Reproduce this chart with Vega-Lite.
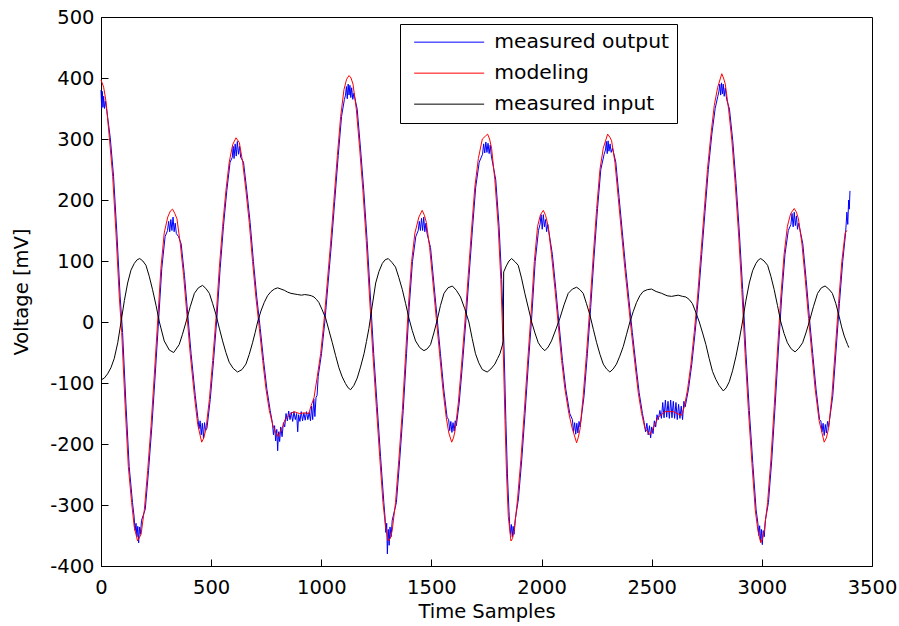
{
"$schema": "https://vega.github.io/schema/vega-lite/v6.json",
"width": 771,
"height": 549,
"autosize": {"type": "none"},
"padding": {"left": 101, "top": 17, "right": 27, "bottom": 60},
"background": "white",
"config": {
  "font": "DejaVu Sans",
  "view": {"stroke": "black", "strokeWidth": 1},
  "axis": {"grid": false, "domainColor": "black", "tickColor": "black", "labelColor": "black", "titleColor": "black", "labelFont": "DejaVu Sans", "titleFont": "DejaVu Sans", "labelFontSize": 19.5, "titleFontSize": 19.5, "titleFontWeight": "normal", "tickSize": -7, "domainWidth": 1, "tickWidth": 1, "labelFlush": false, "labelOverlap": false}
},
"resolve": {"axis": {"x": "independent", "y": "independent"}},
"layer": [
  {
    "data": {"values": [
{"t":0,"v":380},{"t":3,"v":350},{"t":6,"v":378},{"t":9,"v":352},{"t":12,"v":370},{"t":16,"v":350},{"t":20,"v":362},{"t":27,"v":345},{"t":42,"v":302},{"t":57,"v":239},{"t":72,"v":146},{"t":87,"v":41},{"t":98,"v":-17},{"t":113,"v":-133},{"t":128,"v":-237},{"t":143,"v":-296},
{"t":150,"v":-318},{"t":155,"v":-342},{"t":159,"v":-330},{"t":163,"v":-352},{"t":167,"v":-335},{"t":171,"v":-362},{"t":175,"v":-336},{"t":179,"v":-348},{"t":184,"v":-325},
{"t":201,"v":-307},{"t":216,"v":-243},{"t":231,"v":-171},{"t":246,"v":-87},{"t":261,"v":0},{"t":276,"v":88},{"t":291,"v":140},
{"t":302,"v":150},{"t":307,"v":165},{"t":312,"v":148},{"t":317,"v":168},{"t":322,"v":150},{"t":327,"v":172},{"t":332,"v":148},{"t":337,"v":162},{"t":342,"v":145},
{"t":352,"v":140},{"t":364,"v":128},{"t":379,"v":76},{"t":394,"v":12},{"t":409,"v":-52},{"t":428,"v":-121},
{"t":440,"v":-158},{"t":445,"v":-175},{"t":450,"v":-162},{"t":455,"v":-185},{"t":460,"v":-166},{"t":465,"v":-190},{"t":470,"v":-165},{"t":475,"v":-178},
{"t":481,"v":-174},{"t":496,"v":-127},{"t":511,"v":-63},{"t":526,"v":6},{"t":541,"v":88},{"t":556,"v":157},{"t":571,"v":215},{"t":586,"v":262},
{"t":596,"v":270},{"t":600,"v":288},{"t":604,"v":268},{"t":609,"v":292},{"t":614,"v":272},{"t":619,"v":296},{"t":624,"v":275},{"t":629,"v":288},{"t":634,"v":270},
{"t":647,"v":262},{"t":662,"v":215},{"t":677,"v":163},{"t":692,"v":99},{"t":707,"v":41},{"t":723,"v":-11},{"t":738,"v":-63},{"t":753,"v":-110},{"t":768,"v":-145},
{"t":778,"v":-165},{"t":783,"v":-185},{"t":788,"v":-170},{"t":793,"v":-195},{"t":798,"v":-176},{"t":802,"v":-211},{"t":806,"v":-180},{"t":811,"v":-196},{"t":816,"v":-172},{"t":822,"v":-188},{"t":828,"v":-165},{"t":834,"v":-172},
{"t":840,"v":-150},{"t":846,"v":-162},{"t":852,"v":-146},{"t":858,"v":-160},{"t":864,"v":-148},{"t":870,"v":-163},{"t":876,"v":-147},{"t":882,"v":-160},{"t":888,"v":-150},{"t":893,"v":-180},{"t":897,"v":-152},{"t":903,"v":-163},{"t":909,"v":-147},{"t":915,"v":-162},{"t":921,"v":-149},{"t":927,"v":-161},{"t":933,"v":-147},{"t":939,"v":-160},{"t":945,"v":-148},{"t":951,"v":-162},{"t":956,"v":-138},{"t":961,"v":-160},{"t":966,"v":-126},{"t":971,"v":-155},{"t":976,"v":-124},{"t":981,"v":-120},
{"t":986,"v":-89},{"t":1001,"v":-52},{"t":1016,"v":0},{"t":1031,"v":64},{"t":1046,"v":128},{"t":1061,"v":198},{"t":1077,"v":273},{"t":1092,"v":337},{"t":1105,"v":365},
{"t":1110,"v":372},{"t":1114,"v":386},{"t":1118,"v":366},{"t":1122,"v":390},{"t":1126,"v":372},{"t":1130,"v":388},{"t":1134,"v":368},{"t":1138,"v":384},{"t":1143,"v":365},{"t":1148,"v":375},
{"t":1163,"v":349},{"t":1178,"v":285},{"t":1193,"v":215},{"t":1208,"v":134},{"t":1223,"v":41},{"t":1238,"v":-52},{"t":1254,"v":-139},{"t":1269,"v":-220},{"t":1284,"v":-296},
{"t":1289,"v":-318},{"t":1293,"v":-345},{"t":1297,"v":-330},{"t":1300,"v":-380},{"t":1304,"v":-340},{"t":1308,"v":-366},{"t":1312,"v":-336},{"t":1317,"v":-352},{"t":1322,"v":-325},
{"t":1341,"v":-296},{"t":1356,"v":-226},{"t":1372,"v":-145},{"t":1387,"v":-52},{"t":1399,"v":24},{"t":1414,"v":99},{"t":1429,"v":140},
{"t":1440,"v":150},{"t":1445,"v":165},{"t":1450,"v":150},{"t":1455,"v":170},{"t":1460,"v":150},{"t":1465,"v":172},{"t":1470,"v":148},{"t":1475,"v":162},{"t":1480,"v":145},
{"t":1496,"v":122},{"t":1511,"v":64},{"t":1526,"v":6},{"t":1541,"v":-52},{"t":1556,"v":-110},{"t":1571,"v":-156},
{"t":1578,"v":-160},{"t":1583,"v":-178},{"t":1588,"v":-163},{"t":1593,"v":-181},{"t":1598,"v":-165},{"t":1603,"v":-179},{"t":1608,"v":-162},{"t":1613,"v":-170},
{"t":1626,"v":-133},{"t":1641,"v":-69},{"t":1656,"v":0},{"t":1671,"v":76},{"t":1686,"v":151},{"t":1701,"v":221},{"t":1717,"v":262},
{"t":1732,"v":275},{"t":1737,"v":292},{"t":1742,"v":277},{"t":1747,"v":295},{"t":1752,"v":278},{"t":1757,"v":293},{"t":1762,"v":276},{"t":1767,"v":290},{"t":1772,"v":272},
{"t":1792,"v":233},{"t":1807,"v":157},{"t":1819,"v":70},{"t":1830,"v":-46},{"t":1838,"v":-162},{"t":1845,"v":-249},{"t":1852,"v":-310},
{"t":1855,"v":-330},{"t":1859,"v":-348},{"t":1863,"v":-332},{"t":1867,"v":-352},{"t":1871,"v":-335},{"t":1875,"v":-348},{"t":1880,"v":-325},
{"t":1895,"v":-290},{"t":1910,"v":-226},{"t":1925,"v":-150},{"t":1940,"v":-69},{"t":1956,"v":12},{"t":1971,"v":99},{"t":1986,"v":150},
{"t":1993,"v":160},{"t":1998,"v":176},{"t":2003,"v":152},{"t":2008,"v":176},{"t":2013,"v":156},{"t":2018,"v":168},{"t":2023,"v":148},{"t":2028,"v":160},
{"t":2049,"v":111},{"t":2065,"v":53},{"t":2080,"v":-6},{"t":2095,"v":-63},{"t":2110,"v":-110},{"t":2128,"v":-150},
{"t":2140,"v":-160},{"t":2145,"v":-180},{"t":2150,"v":-165},{"t":2155,"v":-184},{"t":2160,"v":-166},{"t":2165,"v":-182},{"t":2170,"v":-163},{"t":2175,"v":-172},
{"t":2193,"v":-121},{"t":2208,"v":-52},{"t":2223,"v":24},{"t":2238,"v":105},{"t":2254,"v":186},{"t":2269,"v":250},{"t":2284,"v":275},
{"t":2290,"v":282},{"t":2294,"v":296},{"t":2298,"v":276},{"t":2302,"v":297},{"t":2306,"v":280},{"t":2311,"v":292},{"t":2316,"v":278},{"t":2322,"v":285},
{"t":2337,"v":262},{"t":2352,"v":204},{"t":2367,"v":146},{"t":2382,"v":88},{"t":2397,"v":35},{"t":2412,"v":-17},{"t":2428,"v":-69},{"t":2443,"v":-116},{"t":2458,"v":-150},
{"t":2466,"v":-165},{"t":2472,"v":-180},{"t":2478,"v":-166},{"t":2484,"v":-185},{"t":2490,"v":-170},{"t":2495,"v":-190},{"t":2500,"v":-172},{"t":2506,"v":-183},{"t":2512,"v":-162},{"t":2518,"v":-172},{"t":2524,"v":-152},
{"t":2530,"v":-160},{"t":2537,"v":-145},{"t":2544,"v":-158},{"t":2550,"v":-132},{"t":2556,"v":-157},{"t":2562,"v":-128},{"t":2568,"v":-156},{"t":2574,"v":-130},{"t":2580,"v":-158},{"t":2586,"v":-128},{"t":2592,"v":-157},{"t":2598,"v":-130},{"t":2604,"v":-158},{"t":2610,"v":-132},{"t":2616,"v":-160},{"t":2622,"v":-135},{"t":2628,"v":-158},{"t":2634,"v":-138},{"t":2640,"v":-160},{"t":2646,"v":-130},
{"t":2652,"v":-139},{"t":2667,"v":-110},{"t":2682,"v":-69},{"t":2697,"v":-17},{"t":2712,"v":41},{"t":2727,"v":111},{"t":2742,"v":181},{"t":2757,"v":250},{"t":2773,"v":308},{"t":2788,"v":350},{"t":2800,"v":370},
{"t":2805,"v":378},{"t":2809,"v":390},{"t":2813,"v":372},{"t":2817,"v":392},{"t":2821,"v":374},{"t":2825,"v":390},{"t":2829,"v":370},{"t":2834,"v":384},{"t":2840,"v":365},
{"t":2853,"v":349},{"t":2868,"v":297},{"t":2883,"v":227},{"t":2898,"v":146},{"t":2913,"v":53},{"t":2928,"v":-52},{"t":2943,"v":-145},{"t":2959,"v":-232},{"t":2974,"v":-308},
{"t":2982,"v":-330},{"t":2986,"v":-350},{"t":2990,"v":-334},{"t":2994,"v":-360},{"t":2998,"v":-340},{"t":3002,"v":-365},{"t":3006,"v":-342},{"t":3011,"v":-352},{"t":3016,"v":-325},
{"t":3030,"v":-296},{"t":3045,"v":-226},{"t":3060,"v":-139},{"t":3075,"v":-46},{"t":3090,"v":41},{"t":3105,"v":111},{"t":3120,"v":150},
{"t":3132,"v":160},{"t":3137,"v":178},{"t":3142,"v":156},{"t":3147,"v":180},{"t":3152,"v":158},{"t":3157,"v":174},{"t":3162,"v":152},{"t":3167,"v":162},
{"t":3186,"v":128},{"t":3201,"v":70},{"t":3216,"v":6},{"t":3231,"v":-52},{"t":3246,"v":-110},{"t":3262,"v":-160},
{"t":3268,"v":-162},{"t":3273,"v":-180},{"t":3278,"v":-166},{"t":3283,"v":-186},{"t":3288,"v":-168},{"t":3293,"v":-182},{"t":3298,"v":-163},{"t":3303,"v":-172},
{"t":3322,"v":-121},{"t":3337,"v":-46},{"t":3352,"v":30},{"t":3367,"v":99},{"t":3380,"v":145},{"t":3386,"v":180},{"t":3390,"v":160},{"t":3394,"v":200},{"t":3397,"v":185},{"t":3400,"v":215}
    ]},
    "mark": {"type": "line", "strokeWidth": 1, "interpolate": "linear"},
    "encoding": {
      "x": {"field": "t", "type": "quantitative", "scale": {"domain": [0, 3500], "nice": false, "zero": false}, "axis": {"orient": "bottom", "title": "Time Samples", "values": [0,500,1000,1500,2000,2500,3000,3500], "labelExpr": "'' + datum.value", "labelPadding": 19, "titlePadding": 6}},
      "y": {"field": "v", "type": "quantitative", "scale": {"domain": [-400, 500], "nice": false, "zero": false}, "axis": {"orient": "left", "title": "Voltage [mV]", "values": [-400,-300,-200,-100,0,100,200,300,400,500], "labelExpr": "'' + datum.value", "labelPadding": 14, "titlePadding": 18}},
      "color": {"datum": "measured output", "scale": {"domain": ["measured output", "modeling", "measured input"], "range": ["#0000ff", "#ff0000", "#000000"]}, "legend": {"orient": "none", "legendX": 299, "legendY": 7, "title": null, "symbolType": "M-1,0H13", "symbolSize": 100, "symbolStrokeWidth": 1, "symbolOffset": 1, "labelFont": "DejaVu Sans", "labelFontSize": 20.3, "labelColor": "black", "strokeColor": "black", "fillColor": "white", "padding": 8, "labelOffset": 65, "rowPadding": 10, "labelLimit": 400}}
    }
  },
  {
    "data": {"values": [
{"t":0,"v":397},{"t":12,"v":385},{"t":23,"v":361},{"t":38,"v":302},{"t":53,"v":239},{"t":68,"v":146},{"t":83,"v":41},{"t":94,"v":-17},{"t":109,"v":-133},{"t":124,"v":-237},{"t":139,"v":-296},{"t":151,"v":-336},{"t":166,"v":-359},{"t":182,"v":-348},{"t":197,"v":-307},{"t":212,"v":-243},{"t":227,"v":-171},{"t":242,"v":-87},{"t":257,"v":0},{"t":272,"v":88},{"t":287,"v":146},{"t":303,"v":172},{"t":315,"v":182},{"t":325,"v":185},{"t":335,"v":178},{"t":345,"v":169},{"t":360,"v":128},{"t":375,"v":76},{"t":390,"v":12},{"t":405,"v":-52},{"t":424,"v":-121},{"t":439,"v":-168},{"t":457,"v":-197},{"t":467,"v":-190},{"t":477,"v":-174},{"t":492,"v":-127},{"t":507,"v":-63},{"t":522,"v":6},{"t":537,"v":88},{"t":552,"v":157},{"t":567,"v":215},{"t":582,"v":262},{"t":598,"v":291},{"t":613,"v":302},{"t":628,"v":294},{"t":643,"v":262},{"t":658,"v":215},{"t":673,"v":163},{"t":688,"v":99},{"t":703,"v":41},{"t":719,"v":-11},{"t":734,"v":-63},{"t":749,"v":-110},{"t":764,"v":-145},{"t":779,"v":-168},{"t":794,"v":-182},{"t":805,"v":-188},{"t":815,"v":-178},{"t":825,"v":-172},{"t":835,"v":-160},{"t":847,"v":-156},{"t":860,"v":-150},{"t":877,"v":-147},{"t":900,"v":-150},{"t":925,"v":-149},{"t":944,"v":-150},{"t":952,"v":-139},{"t":967,"v":-124},{"t":982,"v":-89},{"t":997,"v":-52},{"t":1012,"v":0},{"t":1027,"v":64},{"t":1042,"v":128},{"t":1057,"v":198},{"t":1073,"v":273},{"t":1088,"v":337},{"t":1103,"v":381},{"t":1115,"v":398},{"t":1126,"v":404},{"t":1135,"v":400},{"t":1144,"v":390},{"t":1159,"v":349},{"t":1174,"v":285},{"t":1189,"v":215},{"t":1204,"v":134},{"t":1219,"v":41},{"t":1234,"v":-52},{"t":1250,"v":-139},{"t":1265,"v":-220},{"t":1280,"v":-296},{"t":1292,"v":-336},{"t":1304,"v":-359},{"t":1313,"v":-355},{"t":1322,"v":-342},{"t":1337,"v":-296},{"t":1352,"v":-226},{"t":1368,"v":-145},{"t":1383,"v":-52},{"t":1395,"v":24},{"t":1410,"v":99},{"t":1425,"v":146},{"t":1443,"v":172},{"t":1458,"v":183},{"t":1468,"v":175},{"t":1477,"v":163},{"t":1492,"v":122},{"t":1507,"v":64},{"t":1522,"v":6},{"t":1537,"v":-52},{"t":1552,"v":-110},{"t":1567,"v":-156},{"t":1579,"v":-182},{"t":1592,"v":-197},{"t":1600,"v":-190},{"t":1607,"v":-179},{"t":1622,"v":-133},{"t":1637,"v":-69},{"t":1652,"v":0},{"t":1667,"v":76},{"t":1682,"v":151},{"t":1697,"v":221},{"t":1713,"v":268},{"t":1731,"v":300},{"t":1746,"v":305},{"t":1755,"v":308},{"t":1764,"v":300},{"t":1773,"v":285},{"t":1788,"v":233},{"t":1803,"v":157},{"t":1815,"v":70},{"t":1826,"v":-46},{"t":1834,"v":-162},{"t":1841,"v":-249},{"t":1849,"v":-319},{"t":1861,"v":-359},{"t":1868,"v":-355},{"t":1876,"v":-342},{"t":1891,"v":-290},{"t":1906,"v":-226},{"t":1921,"v":-150},{"t":1936,"v":-69},{"t":1952,"v":12},{"t":1967,"v":99},{"t":1982,"v":157},{"t":1995,"v":176},{"t":2008,"v":183},{"t":2018,"v":175},{"t":2030,"v":157},{"t":2045,"v":111},{"t":2061,"v":53},{"t":2076,"v":-6},{"t":2091,"v":-63},{"t":2106,"v":-110},{"t":2124,"v":-150},{"t":2139,"v":-174},{"t":2159,"v":-198},{"t":2166,"v":-190},{"t":2174,"v":-177},{"t":2189,"v":-121},{"t":2204,"v":-52},{"t":2219,"v":24},{"t":2234,"v":105},{"t":2250,"v":186},{"t":2265,"v":250},{"t":2280,"v":285},{"t":2300,"v":308},{"t":2310,"v":303},{"t":2318,"v":297},{"t":2333,"v":262},{"t":2348,"v":204},{"t":2363,"v":146},{"t":2378,"v":88},{"t":2393,"v":35},{"t":2408,"v":-17},{"t":2424,"v":-69},{"t":2439,"v":-116},{"t":2454,"v":-150},{"t":2469,"v":-174},{"t":2492,"v":-185},{"t":2507,"v":-174},{"t":2530,"v":-156},{"t":2560,"v":-147},{"t":2598,"v":-147},{"t":2635,"v":-153},{"t":2648,"v":-139},{"t":2663,"v":-110},{"t":2678,"v":-69},{"t":2693,"v":-17},{"t":2708,"v":41},{"t":2723,"v":111},{"t":2738,"v":181},{"t":2753,"v":250},{"t":2769,"v":308},{"t":2784,"v":355},{"t":2799,"v":384},{"t":2818,"v":407},{"t":2826,"v":400},{"t":2834,"v":390},{"t":2849,"v":349},{"t":2864,"v":297},{"t":2879,"v":227},{"t":2894,"v":146},{"t":2909,"v":53},{"t":2924,"v":-52},{"t":2939,"v":-145},{"t":2955,"v":-232},{"t":2970,"v":-308},{"t":2982,"v":-342},{"t":2995,"v":-362},{"t":3003,"v":-355},{"t":3011,"v":-342},{"t":3026,"v":-296},{"t":3041,"v":-226},{"t":3056,"v":-139},{"t":3071,"v":-46},{"t":3086,"v":41},{"t":3101,"v":111},{"t":3116,"v":157},{"t":3131,"v":178},{"t":3147,"v":186},{"t":3157,"v":180},{"t":3166,"v":169},{"t":3182,"v":128},{"t":3197,"v":70},{"t":3212,"v":6},{"t":3227,"v":-52},{"t":3242,"v":-110},{"t":3260,"v":-162},{"t":3283,"v":-197},{"t":3293,"v":-190},{"t":3303,"v":-174},{"t":3318,"v":-121},{"t":3333,"v":-46},{"t":3348,"v":30},{"t":3363,"v":99},{"t":3378,"v":146},{"t":3386,"v":150}
    ]},
    "mark": {"type": "line", "strokeWidth": 1, "interpolate": "linear"},
    "encoding": {
      "x": {"field": "t", "type": "quantitative", "axis": null},
      "y": {"field": "v", "type": "quantitative", "axis": null},
      "color": {"datum": "modeling"}
    }
  },
  {
    "data": {"values": [
{"t":0,"v":-95},{"t":15,"v":-92},{"t":30,"v":-85},{"t":45,"v":-75},{"t":60,"v":-60},{"t":76,"v":-34},{"t":91,"v":0},{"t":106,"v":35},{"t":121,"v":64},{"t":136,"v":85},{"t":151,"v":96},{"t":164,"v":102},{"t":176,"v":104},{"t":190,"v":100},{"t":204,"v":93},{"t":219,"v":75},{"t":234,"v":53},{"t":250,"v":27},{"t":265,"v":0},{"t":287,"v":-31},{"t":310,"v":-46},{"t":330,"v":-50},{"t":355,"v":-37},{"t":370,"v":-20},{"t":386,"v":0},{"t":405,"v":25},{"t":424,"v":47},{"t":442,"v":56},{"t":461,"v":60},{"t":476,"v":55},{"t":492,"v":47},{"t":507,"v":30},{"t":522,"v":12},{"t":537,"v":-10},{"t":552,"v":-31},{"t":567,"v":-50},{"t":582,"v":-66},{"t":600,"v":-76},{"t":620,"v":-82},{"t":640,"v":-78},{"t":658,"v":-69},{"t":673,"v":-53},{"t":688,"v":-34},{"t":700,"v":-17},{"t":711,"v":0},{"t":726,"v":18},{"t":741,"v":32},{"t":756,"v":43},{"t":772,"v":50},{"t":787,"v":54},{"t":802,"v":56},{"t":817,"v":54},{"t":832,"v":52},{"t":847,"v":49},{"t":862,"v":47},{"t":877,"v":46},{"t":893,"v":45},{"t":910,"v":44},{"t":925,"v":45},{"t":944,"v":44},{"t":955,"v":43},{"t":967,"v":41},{"t":978,"v":37},{"t":989,"v":32},{"t":1004,"v":20},{"t":1020,"v":6},{"t":1035,"v":-14},{"t":1050,"v":-34},{"t":1065,"v":-55},{"t":1080,"v":-75},{"t":1095,"v":-90},{"t":1110,"v":-101},{"t":1122,"v":-108},{"t":1133,"v":-111},{"t":1148,"v":-104},{"t":1163,"v":-92},{"t":1178,"v":-74},{"t":1194,"v":-52},{"t":1205,"v":-32},{"t":1216,"v":-11},{"t":1231,"v":26},{"t":1247,"v":64},{"t":1262,"v":83},{"t":1277,"v":96},{"t":1290,"v":102},{"t":1304,"v":104},{"t":1320,"v":98},{"t":1337,"v":90},{"t":1352,"v":73},{"t":1368,"v":53},{"t":1383,"v":30},{"t":1398,"v":6},{"t":1413,"v":-14},{"t":1428,"v":-31},{"t":1447,"v":-42},{"t":1466,"v":-47},{"t":1481,"v":-44},{"t":1496,"v":-37},{"t":1511,"v":-18},{"t":1526,"v":3},{"t":1541,"v":27},{"t":1557,"v":47},{"t":1575,"v":56},{"t":1595,"v":59},{"t":1613,"v":52},{"t":1632,"v":41},{"t":1651,"v":22},{"t":1670,"v":0},{"t":1685,"v":-27},{"t":1700,"v":-52},{"t":1715,"v":-67},{"t":1731,"v":-78},{"t":1753,"v":-82},{"t":1770,"v":-77},{"t":1788,"v":-69},{"t":1800,"v":-60},{"t":1811,"v":-52},{"t":1822,"v":-38},{"t":1826,"v":-31},{"t":1828,"v":82},{"t":1840,"v":92},{"t":1852,"v":100},{"t":1864,"v":104},{"t":1879,"v":99},{"t":1894,"v":93},{"t":1909,"v":72},{"t":1924,"v":47},{"t":1940,"v":23},{"t":1955,"v":0},{"t":1970,"v":-18},{"t":1985,"v":-34},{"t":2000,"v":-42},{"t":2015,"v":-47},{"t":2030,"v":-41},{"t":2045,"v":-31},{"t":2064,"v":-13},{"t":2083,"v":6},{"t":2102,"v":28},{"t":2121,"v":47},{"t":2140,"v":54},{"t":2159,"v":57},{"t":2174,"v":53},{"t":2189,"v":47},{"t":2204,"v":30},{"t":2219,"v":12},{"t":2235,"v":-12},{"t":2250,"v":-34},{"t":2265,"v":-53},{"t":2280,"v":-69},{"t":2295,"v":-77},{"t":2310,"v":-82},{"t":2325,"v":-77},{"t":2340,"v":-69},{"t":2355,"v":-56},{"t":2371,"v":-40},{"t":2386,"v":-20},{"t":2401,"v":0},{"t":2416,"v":17},{"t":2431,"v":32},{"t":2446,"v":43},{"t":2461,"v":50},{"t":2480,"v":53},{"t":2499,"v":54},{"t":2520,"v":50},{"t":2545,"v":47},{"t":2570,"v":43},{"t":2590,"v":42},{"t":2620,"v":44},{"t":2640,"v":42},{"t":2655,"v":41},{"t":2670,"v":37},{"t":2685,"v":30},{"t":2700,"v":16},{"t":2716,"v":0},{"t":2731,"v":-18},{"t":2746,"v":-37},{"t":2761,"v":-60},{"t":2776,"v":-81},{"t":2791,"v":-94},{"t":2806,"v":-104},{"t":2825,"v":-113},{"t":2838,"v":-108},{"t":2852,"v":-98},{"t":2867,"v":-80},{"t":2882,"v":-57},{"t":2897,"v":-30},{"t":2912,"v":0},{"t":2927,"v":34},{"t":2943,"v":64},{"t":2958,"v":84},{"t":2973,"v":96},{"t":2985,"v":102},{"t":2995,"v":104},{"t":3010,"v":100},{"t":3026,"v":93},{"t":3041,"v":75},{"t":3056,"v":53},{"t":3071,"v":27},{"t":3086,"v":0},{"t":3101,"v":-19},{"t":3116,"v":-34},{"t":3133,"v":-44},{"t":3151,"v":-49},{"t":3168,"v":-43},{"t":3185,"v":-34},{"t":3200,"v":-18},{"t":3215,"v":0},{"t":3234,"v":25},{"t":3253,"v":47},{"t":3270,"v":56},{"t":3287,"v":59},{"t":3304,"v":54},{"t":3320,"v":47},{"t":3336,"v":30},{"t":3351,"v":9},{"t":3362,"v":-8},{"t":3374,"v":-23},{"t":3389,"v":-37},{"t":3395,"v":-42}
    ]},
    "layer": [
      {
        "mark": {"type": "line", "strokeWidth": 1, "interpolate": "linear"},
        "encoding": {
          "x": {"field": "t", "type": "quantitative", "axis": null},
          "y": {"field": "v", "type": "quantitative", "axis": null},
          "color": {"datum": "measured input"}
        }
      },
      {
        "mark": {"type": "point", "opacity": 0},
        "encoding": {
          "x": {"field": "t", "type": "quantitative", "axis": {"orient": "top", "labels": false, "title": null, "values": [0,500,1000,1500,2000,2500,3000,3500]}},
          "y": {"field": "v", "type": "quantitative", "axis": {"orient": "right", "labels": false, "title": null, "values": [-400,-300,-200,-100,0,100,200,300,400,500]}}
        }
      }
    ]
  }
]
}
